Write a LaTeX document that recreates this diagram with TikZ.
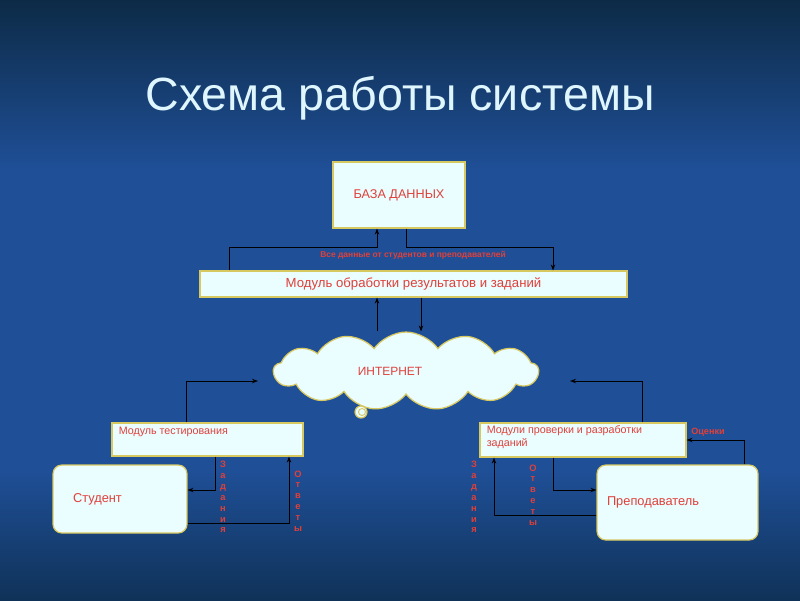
\documentclass[tikz,border=0pt]{standalone}
\usepackage{fontspec}
\setmainfont{Liberation Sans}
\usepackage{tikz}
\usetikzlibrary{
  arrows.meta,
  shapes,
  shapes.symbols,
  positioning,
  calc
}
\definecolor{scBgTop}{HTML}{0D2B47}
\definecolor{scBgMid}{HTML}{1F4F97}
\definecolor{scBgBot}{HTML}{0F3258}
\definecolor{scTitle}{HTML}{DFF6FF}
\definecolor{scFill}{HTML}{EAFDFF}
\definecolor{scEdge}{HTML}{D8C860}
\definecolor{scText}{HTML}{E0403A}
\tikzset{
  scnode/.style={
    draw=scEdge, fill=scFill, line width=0.7pt, inner sep=0pt,
    text=scText, font=\fontsize{7.5}{9}\selectfont
  },
  dbbox/.style={scnode, minimum width=2.64cm, minimum height=1.32cm},
  modbox/.style={scnode},
  personbox/.style={scnode, rounded corners=5pt, align=left, font=\fontsize{7.3}{9}\selectfont},
  netcloud/.style={scnode, cloud, cloud puffs=13, cloud puff arc=110, aspect=3.4,
    minimum width=5.3cm, minimum height=1.56cm},
  modtext/.style={text=scText, font=\fontsize{6.1}{7.6}\selectfont, align=left, inner sep=0pt, anchor=north west},
  tag/.style={text=scText, font=\fontsize{4.8}{5.5}\selectfont\bfseries, inner sep=0pt},
  vtag/.style={tag, align=center, font=\fontsize{5.3}{6.2}\selectfont\bfseries},
  flow/.style={-{Stealth[length=1.2mm, width=0.9mm]}, line width=0.5pt, black}
}

\begin{document}
\begin{tikzpicture}[x=0.02cm, y=-0.02cm]
  \useasboundingbox (0,0) rectangle (800,600);
  \fill[scBgMid] (0,0) rectangle (800,600);
  \shade[top color=scBgTop, bottom color=scBgMid] (0,0) rectangle (800,170);
  \shade[top color=scBgMid, bottom color=scBgBot] (0,470) rectangle (800,600);

  \node[text=scTitle, font=\fontsize{26.5}{30}\selectfont] (title) at (400,98) {Схема работы системы};

  % boxes
  \node[dbbox, font=\fontsize{7.2}{9}\selectfont] (db) at (399,195) {БАЗА ДАННЫХ};
  \node[modbox, minimum width=8.54cm, minimum height=0.52cm] (proc) at (413.5,284)
    {Модуль обработки результатов и заданий};
  \node[netcloud] (net) at (406,371) {};
  \node[text=scText, font=\fontsize{6.8}{8}\selectfont, inner sep=0pt] (netlbl) at (390,371) {ИНТЕРНЕТ};
  \draw[draw=scEdge, fill=scFill, line width=0.7pt] (361,412) circle (0.12cm);
  \draw[draw=scEdge, line width=0.5pt] (362,412) circle (0.07cm);

  \node[modbox, minimum width=3.82cm, minimum height=0.66cm] (test) at (207.5,439.5) {};
  \node[modtext] (testlbl) at ([shift={(7,4)}]test.north west) {Модуль тестирования};
  \node[modbox, minimum width=4.12cm, minimum height=0.68cm] (check) at (583,440) {};
  \node[modtext] (checklbl) at ([shift={(7,3)}]check.north west) {Модули проверки и разработки\\заданий};

  \node[personbox, minimum width=2.68cm, minimum height=1.36cm, text width=1.88cm, inner xsep=0.4cm]
    (stud) at (120,499) {Студент};
  \node[personbox, minimum width=3.22cm, minimum height=1.5cm, text width=2.82cm, inner xsep=0.2cm]
    (teach) at (677.5,502.5) {Преподаватель};

  \coordinate (netL) at (258,381);
  \coordinate (netR) at (570,381);

  % links
  \draw[flow] (proc.north -| 229,0) -- (229,247) -| (db.south -| 377,0);
  \draw[flow] (db.south -| 406,0) -- (406,247) -| (proc.north -| 553,0);
  \node[tag] (alldata) at (413,255) {Все данные от студентов и преподавателей};
  \draw[flow] (net.north -| 377,0) -- (proc.south -| 377,0);
  \draw[flow] (proc.south -| 421,0) -- (net.north -| 421,0);

  \draw[flow] (test.north -| 186,0) |- (netL);
  \draw[flow] (check.north -| 642,0) |- (netR);

  \draw[flow] (test.south -| 215,0) |- (stud.east |- 0,490);
  \draw[flow] (stud.east |- 0,523) -| (test.south -| 289,0);
  \node[vtag] (zl) at (223,497) {З\\а\\д\\а\\н\\и\\я};
  \node[vtag] (ol) at (298,501) {О\\т\\в\\е\\т\\ы};

  \draw[flow] (teach.north -| 744,0) |- (check.east |- 0,440);
  \node[tag, font=\fontsize{5.2}{6}\selectfont\bfseries] (marks) at (708,432) {Оценки};
  \draw[flow] (check.south -| 553,0) |- (teach.west |- 0,490);
  \draw[flow] (teach.west |- 0,515) -| (check.south -| 494,0);
  \node[vtag] (zr) at (474,497) {З\\а\\д\\а\\н\\и\\я};
  \node[vtag] (or) at (533,495) {О\\т\\в\\е\\т\\ы};
\end{tikzpicture}
\end{document}
